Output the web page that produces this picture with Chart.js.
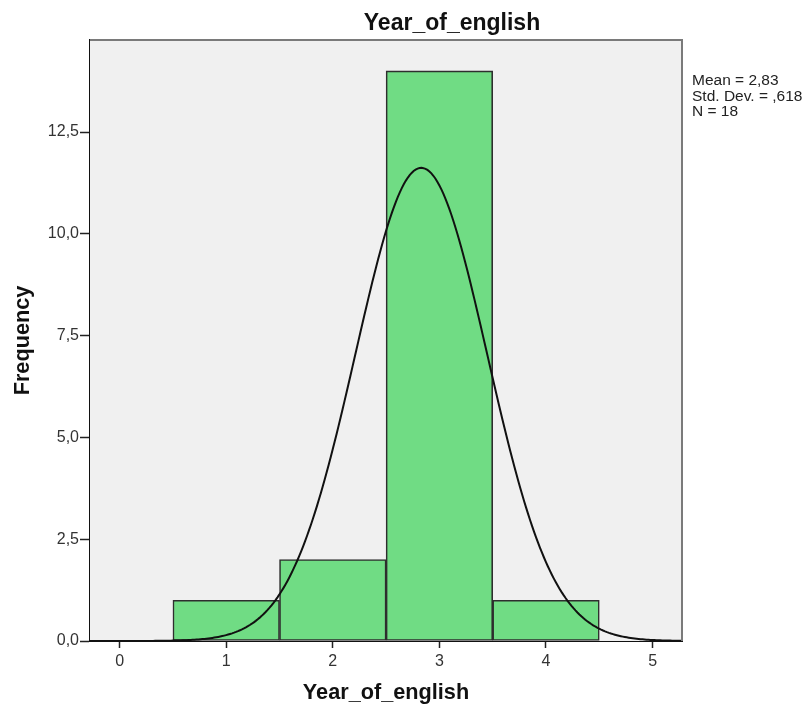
<!DOCTYPE html>
<html>
<head>
<meta charset="utf-8">
<title>Year_of_english</title>
<script src="https://cdn.jsdelivr.net/npm/chart.js@4/dist/chart.umd.min.js"></script>
<style>
  html, body { margin: 0; padding: 0; background: #ffffff; }
  #wrap { width: 807px; height: 709px; position: relative; }
</style>
</head>
<body>
<div id="wrap"><canvas id="hist"></canvas></div>
<script>
// Histogram bins (bin centres) and their counts
const binCenters = [1, 2, 3, 4];
const frequencies = [1, 2, 14, 1];
const binWidth = 1;

// Axis ticks
const xTicks = [0, 1, 2, 3, 4, 5];
const yTicks = [0, 2.5, 5, 7.5, 10, 12.5];

// Summary statistics shown beside the plot
const statMean = 2.83;
const statSd = 0.618;
const statN = 18;
const statLines = ['Mean = 2,83', 'Std. Dev. = ,618', 'N = 18'];

const chartTitle = 'Year_of_english';

// Axis ranges
const xMin = -0.278, xMax = 5.276;
const yMin = 0, yMax = 14.76;

// Fitted normal curve scaled to counts: N * binWidth * pdf(x)
const curveX = [];
for (let i = 0; i <= 300; i++) curveX.push(xMin + (xMax - xMin) * i / 300);
const curvePoints = curveX.map(x => {
  const z = (x - statMean) / statSd;
  return { x, y: statN * binWidth * Math.exp(-0.5 * z * z) / (statSd * Math.sqrt(2 * Math.PI)) };
});

const FONT = '"Liberation Sans", Arial, sans-serif';

const plotFrame = {
  id: 'plotFrame',
  beforeDatasetsDraw(chart) {
    const { ctx, chartArea: a } = chart;
    ctx.save();
    ctx.fillStyle = '#f0f0f0';
    ctx.fillRect(a.left, a.top, a.right - a.left, a.bottom - a.top);
    ctx.restore();
  },
  afterDatasetsDraw(chart) {
    const { ctx, chartArea: a } = chart;
    ctx.save();
    ctx.strokeStyle = '#7a7a7a';
    ctx.lineWidth = 2;
    ctx.beginPath();
    ctx.moveTo(a.left, a.top);
    ctx.lineTo(a.right, a.top);
    ctx.lineTo(a.right, a.bottom);
    ctx.stroke();
    ctx.restore();
  },
  afterDraw(chart) {
    const { ctx, chartArea: a } = chart;
    ctx.save();
    // chart title
    ctx.font = 'bold 23px ' + FONT;
    ctx.fillStyle = '#111111';
    ctx.textAlign = 'center';
    ctx.textBaseline = 'alphabetic';
    ctx.fillText(chartTitle, 452, 30);
    // statistics block
    ctx.font = '15.5px ' + FONT;
    ctx.fillStyle = '#222222';
    ctx.textBaseline = 'middle';
    ctx.textAlign = 'left';
    statLines.forEach((t, i) => ctx.fillText(t, a.right + 10, 81 + i * 15.5));
    ctx.restore();
  }
};

new Chart(document.getElementById('hist'), {
  type: 'bar',
  data: {
    datasets: [
      {
        type: 'line',
        label: 'Normal',
        data: curvePoints,
        borderColor: '#111111',
        borderWidth: 2,
        pointRadius: 0,
        tension: 0,
        fill: false,
        order: 0
      },
      {
        type: 'bar',
        label: 'Frequency',
        data: binCenters.map((c, i) => ({ x: c, y: frequencies[i] })),
        backgroundColor: '#70dc84',
        borderColor: '#2e2e2e',
        borderWidth: 1.6,
        borderSkipped: false,
        barPercentage: 1,
        categoryPercentage: 1,
        order: 1
      }
    ]
  },
  options: {
    responsive: true,
    maintainAspectRatio: false,
    animation: false,
    layout: { padding: { left: 0, right: 125, top: 40, bottom: 0 } },
    plugins: {
      legend: { display: false },
      tooltip: { enabled: false },
      title: { display: false }
    },
    scales: {
      x: {
        type: 'linear',
        min: xMin,
        max: xMax,
        offset: false,
        afterBuildTicks: s => { s.ticks = xTicks.map(v => ({ value: v })); },
        afterFit: s => { s.height = 68; },
        ticks: {
          color: '#333333',
          font: { family: FONT, size: 16 },
          padding: 4,
          maxRotation: 0,
          callback: v => String(v)
        },
        grid: { offset: false, drawOnChartArea: false, drawTicks: true, tickLength: 7, color: '#222222', tickWidth: 1.5 },
        border: { display: true, color: '#111111', width: 2 },
        title: {
          display: true,
          text: 'Year_of_english',
          color: '#111111',
          font: { family: FONT, size: 21.7, weight: 'bold' },
          padding: { top: 0, bottom: 3 }
        }
      },
      y: {
        min: yMin,
        max: yMax,
        afterBuildTicks: s => { s.ticks = yTicks.map(v => ({ value: v })); },
        afterFit: s => { s.width = 90; },
        ticks: {
          color: '#333333',
          font: { family: FONT, size: 16 },
          padding: 1,
          callback: v => Number(v).toFixed(1).replace('.', ',')
        },
        grid: { drawOnChartArea: false, drawTicks: true, tickLength: 10, color: '#222222', tickWidth: 1.5 },
        border: { display: true, color: '#111111', width: 2 },
        title: {
          display: true,
          text: 'Frequency',
          color: '#111111',
          font: { family: FONT, size: 21.7, weight: 'bold' },
          padding: { top: 10.5, bottom: 0 }
        }
      }
    }
  },
  plugins: [plotFrame]
});
</script>
</body>
</html>
